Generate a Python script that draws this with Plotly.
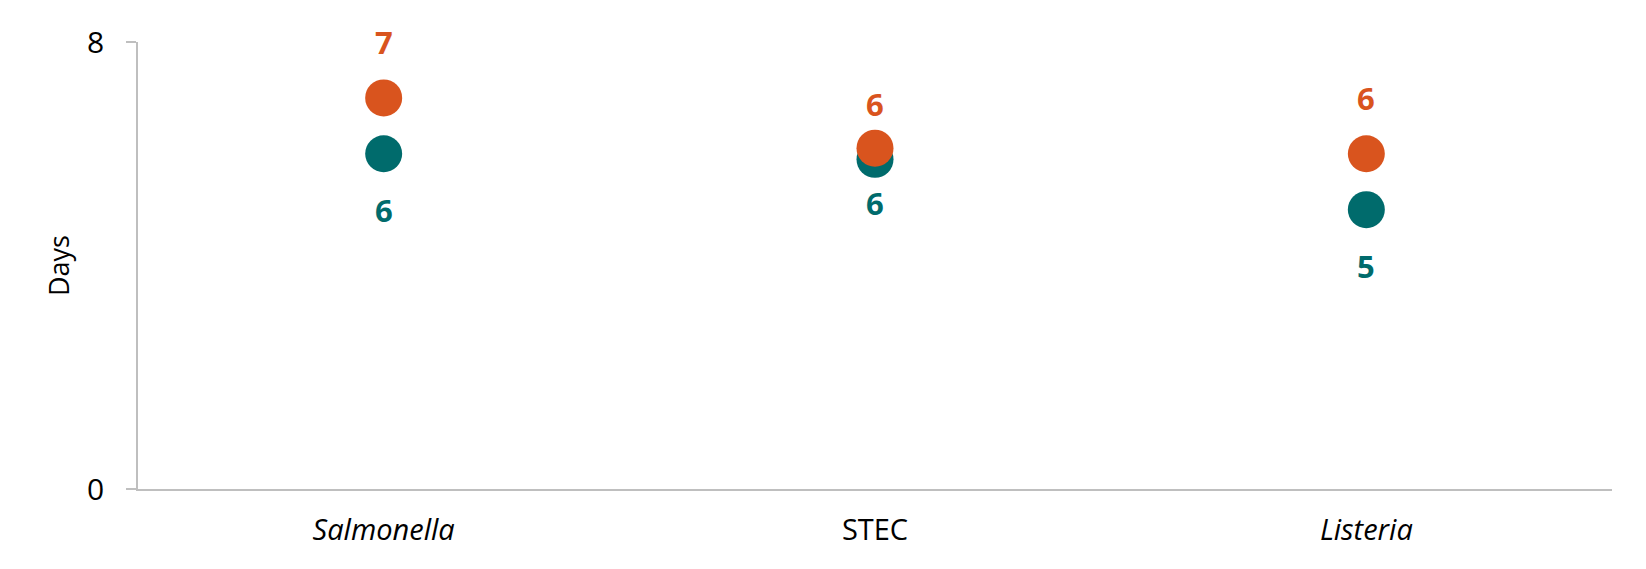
import plotly.graph_objects as go

# pathogen categories and median days
pathogens = ['<i>Salmonella</i>', 'STEC', '<i>Listeria</i>']
days_orange = [7.0, 6.1, 6.0]
days_teal = [6.0, 5.9, 5.0]

orange = '#D9541E'
teal = '#006B6C'
axis_grey = '#BFBFBF'
font_name = 'Open Sans'

fig = go.Figure()

fig.add_trace(go.Scatter(
    x=pathogens, y=days_teal, mode='markers',
    marker=dict(size=37, color=teal), showlegend=False))
fig.add_trace(go.Scatter(
    x=pathogens, y=days_orange, mode='markers',
    marker=dict(size=37, color=orange), showlegend=False))

# labels: orange above, teal below (STEC labels sit a bit closer in the original)
for i, p in enumerate(pathogens):
    shift = 44 if p == 'STEC' else 56
    fig.add_annotation(x=p, y=days_orange[i], text='<b>%d</b>' % round(days_orange[i]),
                       showarrow=False, yshift=shift,
                       font=dict(family=font_name, size=31, color=orange))
    fig.add_annotation(x=p, y=days_teal[i], text='<b>%d</b>' % round(days_teal[i]),
                       showarrow=False, yshift=-shift,
                       font=dict(family=font_name, size=31, color=teal))

fig.update_layout(
    width=1646, height=569,
    margin=dict(l=130, r=42, t=21, b=88),
    paper_bgcolor='white', plot_bgcolor='white',
    font=dict(family=font_name, size=28, color='black'),
    xaxis=dict(
        type='category', range=[-0.5, 2.5],
        showline=True, linecolor=axis_grey, linewidth=1.5,
        ticks='', showgrid=False, zeroline=False,
        tickfont=dict(size=29), ticklabelstandoff=14),
    yaxis=dict(
        range=[0, 8], tickvals=[0, 8], ticktext=['0', '8'],
        showline=True, linecolor=axis_grey, linewidth=1.5,
        ticks='outside', ticklen=10, tickcolor=axis_grey, tickwidth=1.5,
        ticklabelstandoff=16, ticklabeloverflow='allow',
        showgrid=False, zeroline=False,
        title=dict(text='Days', font=dict(size=27), standoff=10),
        tickfont=dict(size=30)),
)

fig.write_html("out.html")
